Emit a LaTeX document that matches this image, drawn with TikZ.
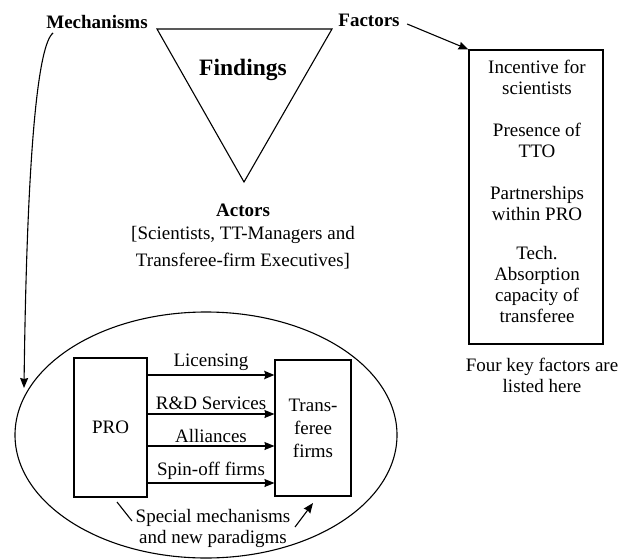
\documentclass[tikz,border=0pt]{standalone}
\usepackage{fontspec}
\setmainfont{Liberation Serif}
\usetikzlibrary{positioning,arrows.meta,shapes.geometric}

\begin{document}
\begin{tikzpicture}[x=1pt,y=-1pt,>={Stealth[length=10pt,width=8pt,inset=1pt]},line width=1.1pt,
                    every node/.style={font=\fontsize{19}{21}\selectfont,
                                       align=center,inner sep=1pt}]
  \tikzstyle{head}=[font=\fontsize{19}{21}\selectfont\bfseries]
  \tikzstyle{box}=[draw,inner sep=0pt]
  \tikzstyle{flow}=[->]

  \useasboundingbox (0,0) rectangle (631,559);

  % findings triangle
  \coordinate (tl) at (157,29);
  \coordinate (tr) at (332,29);
  \coordinate (tb) at (244,182);
  \draw (tl) -- (tr) -- (tb) -- cycle;
  \node[font=\fontsize{23.5}{26}\selectfont\bfseries] (findings) at (243,70) {Findings};

  \node[head] (mech)    at (97,22)  {Mechanisms};
  \node[head] (factors) at (369,20) {Factors};
  \node[head] (actors)  at (243,210) {Actors};
  \node[font=\fontsize{19}{27}\selectfont] (actlist) at (243,248)
        {[Scientists, TT-Managers and\\Transferee-firm Executives]};

  % factors box
  \node[box, minimum width=134, minimum height=294] (fbox) at (536,197) {};
  \node (f1) at (537,77)  {Incentive for\\scientists};
  \node (f2) at (537,140) {Presence of\\TTO};
  \node (f3) at (537,203) {Partnerships\\within PRO};
  \node (f4) at (537,284) {Tech.\\Absorption\\capacity of\\transferee};
  \node (fnote) at (542,375) {Four key factors are\\listed here};

  \draw[flow] ([xshift=6pt,yshift=-4pt]factors.east) -- (fbox.north west);

  % mechanisms
  \node[draw, ellipse, minimum width=382, minimum height=246] (env) at (206,435) {};
  \node[box, minimum width=73, minimum height=139] (pro)   at (110.5,427.5) {PRO};
  \node[box, minimum width=76, minimum height=136,
        font=\fontsize{19}{23}\selectfont] (trans) at (313,428) {Trans-\\feree\\firms};

  \coordinate (mstart) at (53,33);
  \coordinate (mend)   at (24,388);
  \draw[flow] (mstart) .. controls (38,45) and (27,150) .. (mend);

  \draw[flow, line width=2.2pt] (pro.east |- 0,375) -- node[above=2pt] {Licensing} (trans.west |- 0,375);
  \draw[flow] (pro.east |- 0,414) -- node[above=2.5pt] {R\&D Services} (trans.west |- 0,414);
  \draw[flow] (pro.east |- 0,446) -- node[above=2pt] {Alliances} (trans.west |- 0,446);
  \draw[flow] (pro.east |- 0,483) -- node[above=2pt] {Spin-off firms} (trans.west |- 0,483);

  \node (spec) at (213,528) {Special mechanisms\\and new paradigms};
  \coordinate (s1) at (117,502);
  \coordinate (s2) at (132,521);
  \coordinate (s3) at (295,527);
  \coordinate (s4) at (313,503);
  \draw (s1) -- (s2);
  \draw[flow] (s3) -- (s4);
\end{tikzpicture}
\end{document}
